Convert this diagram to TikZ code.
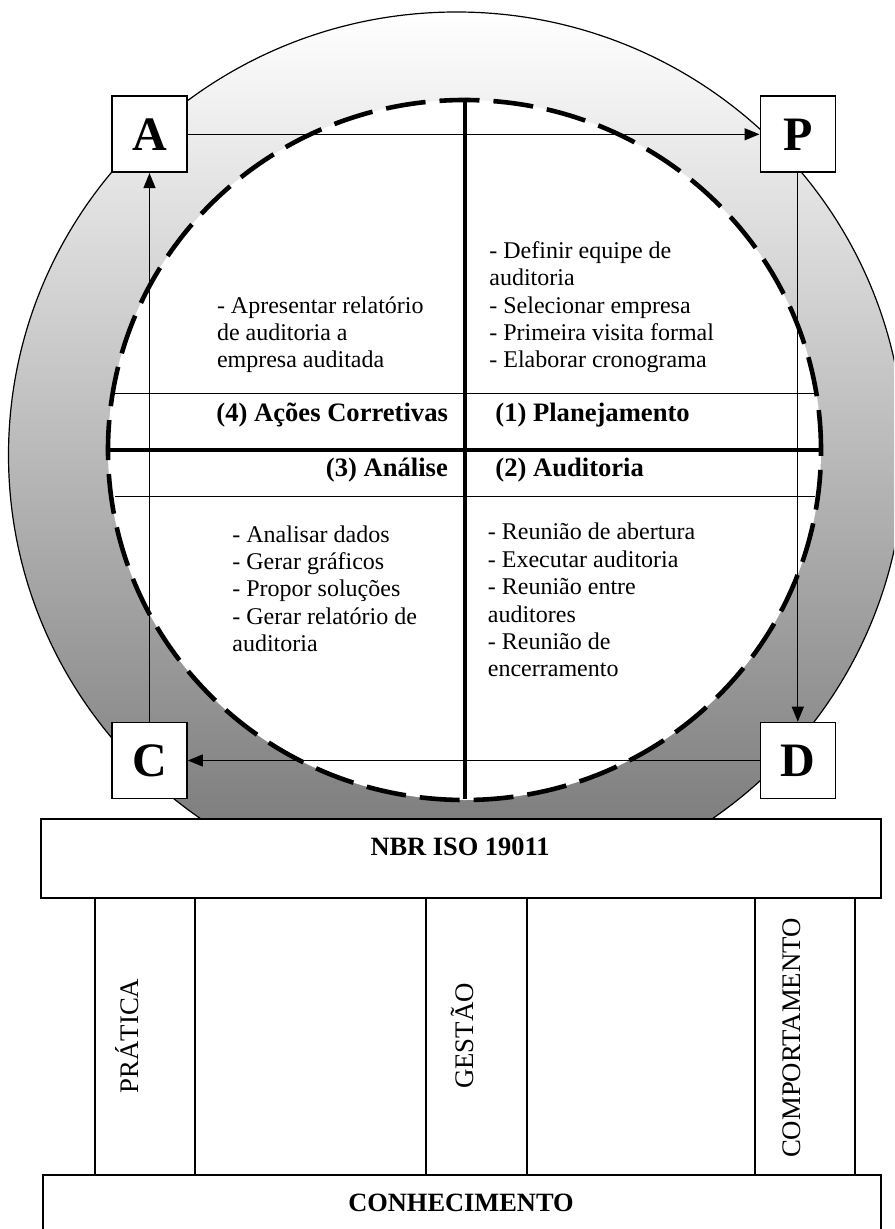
\documentclass[tikz,border=0pt]{standalone}
\usepackage{fontspec}
\setmainfont{Liberation Serif}
\usetikzlibrary{arrows.meta}
\begin{document}
\begin{tikzpicture}[x=0.5pt,y=-0.5pt,
  letterbox/.style={draw, line width=0.8pt, fill=white, minimum width=37.5pt, minimum height=38pt, inner sep=0pt, font=\fontsize{24}{28}\selectfont\bfseries},
  arr/.style={line width=0.6pt, -{Triangle[length=7.5pt,width=6pt]}},
  thickline/.style={line width=2pt},
  thinline/.style={line width=0.6pt},
  body/.style={font=\fontsize{12}{13.7}\selectfont, align=left, inner sep=0pt, anchor=base west},
  head/.style={font=\fontsize{13.3}{16}\selectfont\bfseries, inner sep=0pt},
  boldlabel/.style={font=\fontsize{13.2}{16}\selectfont\bfseries, inner sep=0pt, anchor=base},
  pillar/.style={draw, line width=0.8pt, fill=white, inner sep=0pt, anchor=north west},
  ptext/.style={font=\fontsize{13.4}{15}\selectfont, rotate=90, anchor=base, inner sep=0pt},
  basebox/.style={draw, line width=0.8pt, fill=white, inner sep=0pt, anchor=north west}
]
\useasboundingbox (0,0) rectangle (894,1229);
\clip (0,0) rectangle (894,1229);

% outer shaded ring
\draw[line width=0.6pt, top color=white, bottom color=black!55] (456.5,455) ellipse [x radius=224pt, y radius=221.5pt];
% inner dashed ellipse
\draw[line width=2.3pt, dash pattern=on 20pt off 7pt, fill=white] (464.5,450) ellipse [x radius=178.25pt, y radius=175pt];

% cross and separators
\coordinate (vt) at (464.5,101);
\coordinate (vb) at (464.5,799);
\coordinate (hl) at (109,450);
\coordinate (hr) at (820,450);
\coordinate (u1) at (115,393.3);
\coordinate (u2) at (814,393.3);
\coordinate (l1) at (115,496.7);
\coordinate (l2) at (815,496.7);
\draw[thinline] (u1) -- (u2);
\draw[thinline] (l1) -- (l2);
\draw[thickline] (vt) -- (vb);
\draw[thickline] (hl) -- (hr);

% quadrant headings
\node[head, anchor=base east] (h4) at (448.3,421.7) {(4) Ações Corretivas};
\node[head, anchor=base west] (h1) at (495,421.7) {(1) Planejamento};
\node[head, anchor=base east] (h3) at (448.3,476.7) {(3) Análise};
\node[head, anchor=base west] (h2) at (495,476.7) {(2) Auditoria};

% quadrant texts (anchor = baseline of last line)
\node[body] (tA) at (216.6,368) {- Apresentar relatório\\de auditoria a\\empresa auditada};
\node[body] (tP) at (489,368) {- Definir equipe de\\auditoria\\- Selecionar empresa\\- Primeira visita formal\\- Elaborar cronograma};
\node[body] (tC) at (232,651.7) {- Analisar dados\\- Gerar gráficos\\- Propor soluções\\- Gerar relatório de\\auditoria};
\node[body] (tD) at (487.5,676.8) {- Reunião de abertura\\- Executar auditoria\\- Reunião entre\\auditores\\- Reunião de\\encerramento};

% PDCA boxes
\node[letterbox] (A) at (149.5,134.3) {A};
\node[letterbox] (P) at (797.8,134.3) {P};
\node[letterbox] (C) at (149.5,760.5) {C};
\node[letterbox] (D) at (797.8,760.5) {D};
\draw[arr] (A) -- (P);
\draw[arr] (P) -- (D);
\draw[arr] (D) -- (C);
\draw[arr] (C) -- (A);

% base structure
\node[basebox, minimum width=420pt, minimum height=39.5pt] (nbr) at (40,818) {};
\node[boldlabel] (nbrt) at (460,855) {NBR ISO 19011};
\node[pillar, minimum width=50pt, minimum height=138.5pt] (p1) at (94,897) {};
\node[pillar, minimum width=50.5pt, minimum height=138.5pt] (p2) at (425,897) {};
\node[pillar, minimum width=50pt, minimum height=138.5pt] (p3) at (754,897) {};
\node[ptext] (p1t) at (138,1036) {PRÁTICA};
\node[ptext] (p2t) at (473.5,1036) {GESTÃO};
\node[ptext] (p3t) at (800,1038) {COMPORTAMENTO};
\node[basebox, minimum width=419pt, minimum height=50pt] (con) at (42,1174) {};
\node[boldlabel] (cont) at (461,1211.7) {CONHECIMENTO};
\end{tikzpicture}
\end{document}
